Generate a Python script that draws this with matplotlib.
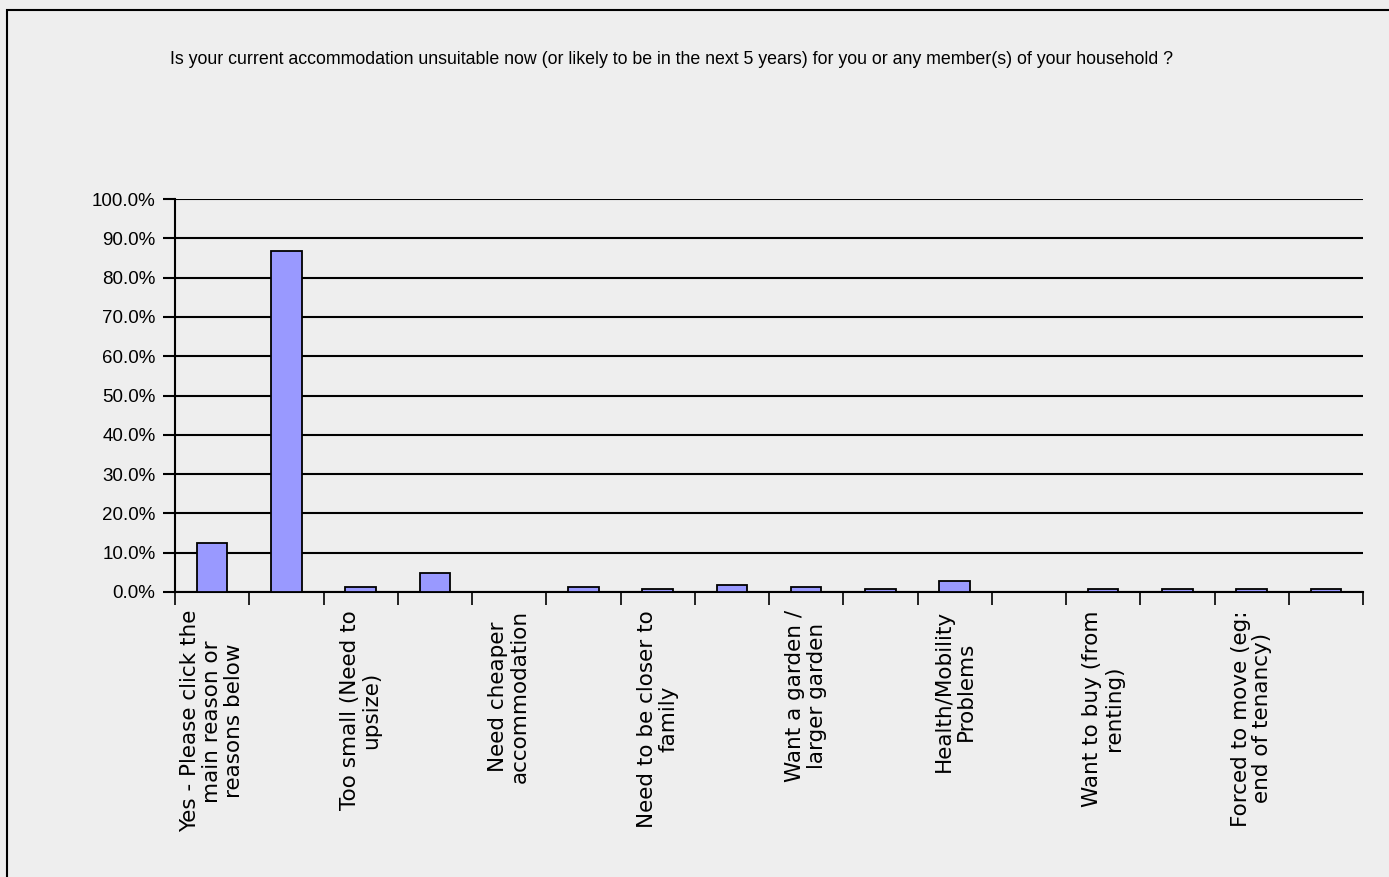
import numpy as np
import matplotlib
matplotlib.use('Agg')
import matplotlib.pyplot as plt
from matplotlib.patches import Rectangle
from matplotlib.ticker import PercentFormatter

labels = [
    'Yes - Please click the\nmain reason or\nreasons below', '',
    'Too small (Need to\nupsize)', '',
    'Need cheaper\naccommodation', '',
    'Need to be closer to\nfamily', '',
    'Want a garden /\nlarger garden', '',
    'Health/Mobility\nProblems', '',
    'Want to buy (from\nrenting)', '',
    'Forced to move (eg:\nend of tenancy)', '',
]
values = [12.5, 86.8, 1.3, 4.8, 0.0, 1.3, 0.7, 1.8,
          1.3, 0.7, 2.8, 0.0, 0.7, 0.7, 0.7, 0.7]
yticks = np.arange(0, 101, 10)

title = ('Is your current accommodation unsuitable now (or likely to be in the next 5 years) '
         'for you or any member(s) of your household ?')

narrow = ['Liberation Sans', 'DejaVu Sans']
bg = '#eeeeee'

fig = plt.figure(figsize=(13.89, 8.77), dpi=100, facecolor=bg)
# outer frame, only left and top edges fall inside the image
fig.patches.append(Rectangle((7 / 1389, -0.1), 1.2, (877 - 10) / 877 + 0.1,
                             transform=fig.transFigure, fill=False,
                             edgecolor='black', linewidth=1.5))
ax = fig.add_axes([175 / 1389, (877 - 592) / 877, (1363 - 175) / 1389, (592 - 199) / 877])
ax.set_facecolor(bg)

x = np.arange(len(values))
ax.bar(x, values, width=0.41, color='#9999ff', edgecolor='black', linewidth=1.3, zorder=3)

ax.set_xlim(-0.5, len(values) - 0.5)
ax.set_ylim(0, 100)
ax.set_yticks(yticks)
ax.yaxis.set_major_formatter(PercentFormatter(decimals=1))
ax.grid(axis='y', color='black', linewidth=1.5, zorder=1)
ax.set_axisbelow(True)

# tick marks between categories, labels at category centres
ax.set_xticks(np.arange(len(values) + 1) - 0.5)
ax.set_xticklabels([])
ax.set_xticks(x, minor=True)
ax.set_xticklabels(labels, minor=True, rotation=90, va='top', ha='center',
                   fontsize=15.5, linespacing=1.1)
ax.tick_params(axis='x', which='minor', length=0, pad=13)
ax.tick_params(axis='x', which='major', length=9, width=1.2, direction='out')
ax.tick_params(axis='y', length=9, width=1.5, pad=5)
for t in ax.get_yticklabels():
    t.set_family(narrow)
    t.set_fontsize(13.5)

for s in ['top', 'right']:
    ax.spines[s].set_visible(False)
ax.spines['left'].set_linewidth(1.5)
ax.spines['bottom'].set_linewidth(1.5)

fig.text(672 / 1389, 1 - 60 / 877, title, ha='center', va='center',
         fontsize=12.8, family=narrow)

fig.savefig('out.png', dpi=100, facecolor=bg)
